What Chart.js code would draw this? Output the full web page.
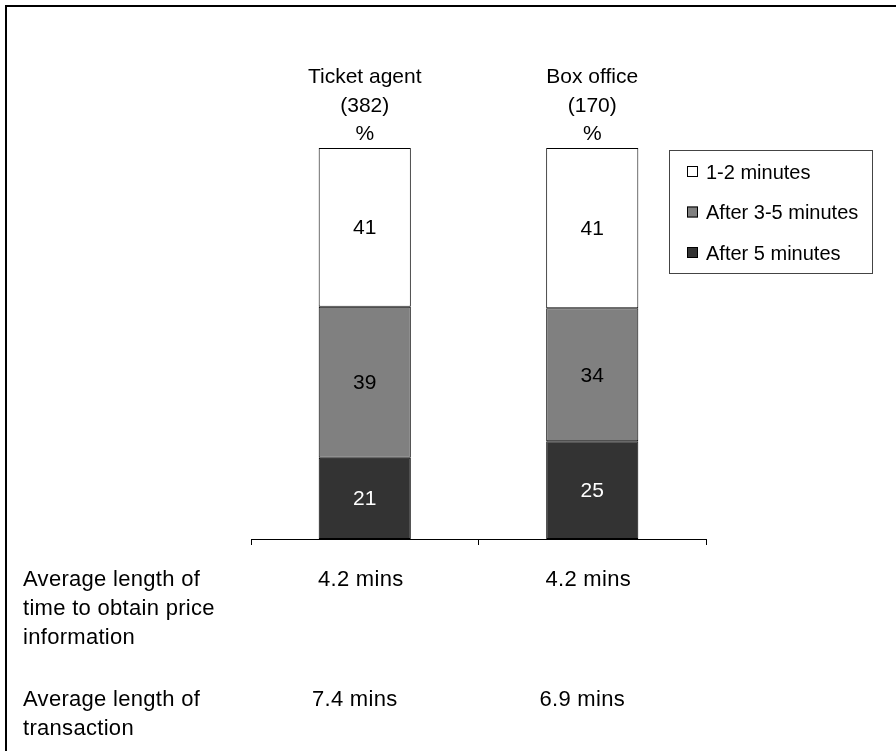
<!DOCTYPE html>
<html>
<head>
<meta charset="utf-8">
<script src="https://cdn.jsdelivr.net/npm/chart.js@4"></script>
<style>
  html, body { margin: 0; padding: 0; background: #fff; }
  #wrap { width: 896px; height: 751px; }
</style>
</head>
<body>
<div id="wrap"><canvas id="c" width="896" height="751"></canvas></div>
<script>
// ---- data ----
const categories = ["Ticket agent", "Box office"];
const categoryBases = ["(382)", "(170)"];
const seriesNames = ["1-2 minutes", "After 3-5 minutes", "After 5 minutes"];
const mins12 = [41, 41];
const mins35 = [39, 34];
const mins5plus = [21, 25];
const rowLabels = [["Average length of", "time to obtain price", "information"], ["Average length of", "transaction"]];
const priceInfoTime = ["4.2 mins", "4.2 mins"];
const transactionTime = ["7.4 mins", "6.9 mins"];

const seriesColors = ["#ffffff", "#808080", "#333333"];
const labelColors = ["#000000", "#000000", "#ffffff"];
const FONT = '"Liberation Sans", Arial, sans-serif';

// 100% stacked (as in the original chart): each column is scaled to its own total
const rawSeries = [mins5plus, mins35, mins12];     // bottom to top
const rawNames = [seriesNames[2], seriesNames[1], seriesNames[0]];
const rawColors = [seriesColors[2], seriesColors[1], seriesColors[0]];
const rawLabelColors = [labelColors[2], labelColors[1], labelColors[0]];
const totals = categories.map((_, i) => rawSeries.reduce((s, arr) => s + arr[i], 0));

const datasets = rawSeries.map((arr, k) => ({
  label: rawNames[k],
  data: arr.map((v, i) => v / totals[i] * 100),
  raw: arr,
  backgroundColor: rawColors[k],
  borderColor: "#000000",
  borderWidth: 1,
  borderSkipped: false,
  barPercentage: 0.81,
  categoryPercentage: 0.5,
  labelColor: rawLabelColors[k]
}));

const decor = {
  id: "decor",
  beforeDraw(chart) {
    const ctx = chart.ctx;
    ctx.save();
    ctx.fillStyle = "#fff";
    ctx.fillRect(0, 0, chart.width, chart.height);
    ctx.strokeStyle = "#000";
    ctx.lineWidth = 2;
    ctx.beginPath();
    ctx.moveTo(6, chart.height + 2);
    ctx.lineTo(6, 6);
    ctx.lineTo(chart.width + 2, 6);
    ctx.stroke();
    ctx.restore();
  },
  afterDraw(chart) {
    const ctx = chart.ctx;
    const xs = chart.scales.x;
    ctx.save();
    ctx.font = "21px " + FONT;
    ctx.textAlign = "center";
    ctx.textBaseline = "middle";
    // values inside segments
    chart.data.datasets.forEach((ds, k) => {
      const meta = chart.getDatasetMeta(k);
      meta.data.forEach((el, i) => {
        ctx.fillStyle = ds.labelColor;
        ctx.fillText(String(ds.raw[i]), el.x, (el.y + el.base) / 2 + 1);
      });
    });
    // column headers
    ctx.fillStyle = "#000";
    categories.forEach((c, i) => {
      const x = xs.getPixelForValue(i);
      ctx.fillText(c, x, 77);
      ctx.fillText(categoryBases[i], x, 106);
      ctx.fillText("%", x, 134);
    });
    // legend
    ctx.font = "20px " + FONT;
    const lx = 669, ly = 150, lw = 203, lh = 123;
    ctx.strokeStyle = "#444";
    ctx.lineWidth = 1;
    ctx.strokeRect(lx + 0.5, ly + 0.5, lw, lh);
    ctx.textAlign = "left";
    seriesNames.forEach((n, k) => {
      const y = 172 + k * 40.5;
      ctx.fillStyle = seriesColors[k];
      ctx.fillRect(687, y - 6, 11, 11);
      ctx.strokeStyle = "#000";
      ctx.strokeRect(687.5, y - 5.5, 10, 10);
      ctx.fillStyle = "#000";
      ctx.fillText(n, 706, y + 1);
    });
    // rows below the chart
    ctx.font = "22px " + FONT;
    try { ctx.letterSpacing = "0.3px"; } catch (e) {}
    const rowTop = [580, 700];
    rowLabels.forEach((lines, r) => {
      lines.forEach((t, j) => {
        ctx.textAlign = "left";
        ctx.fillText(t, 23, rowTop[r] + j * 29);
      });
    });
    ctx.textAlign = "center";
    const valueRows = [priceInfoTime, transactionTime];
    valueRows.forEach((vals, r) => {
      vals.forEach((v, i) => {
        const x = xs.getPixelForValue(i) - (r === 0 ? 4 : 10);
        ctx.fillText(v, x, rowTop[r]);
      });
    });
    ctx.restore();
  }
};

new Chart(document.getElementById("c"), {
  type: "bar",
  data: { labels: categories, datasets },
  options: {
    responsive: false,
    animation: false,
    events: [],
    layout: { padding: { left: 251, right: 190, top: 148, bottom: 212 } },
    plugins: { legend: { display: false }, tooltip: { enabled: false } },
    scales: {
      x: {
        stacked: true,
        offset: true,
        ticks: { display: false },
        grid: { display: true, drawOnChartArea: false, drawTicks: true, tickLength: 6, color: "#000", offset: true },
        border: { display: true, color: "#000", width: 1 },
        afterFit: (s) => { s.height = 0; }
      },
      y: {
        stacked: true,
        display: false,
        min: 0,
        max: 100
      }
    }
  },
  plugins: [decor]
});
</script>
</body>
</html>
